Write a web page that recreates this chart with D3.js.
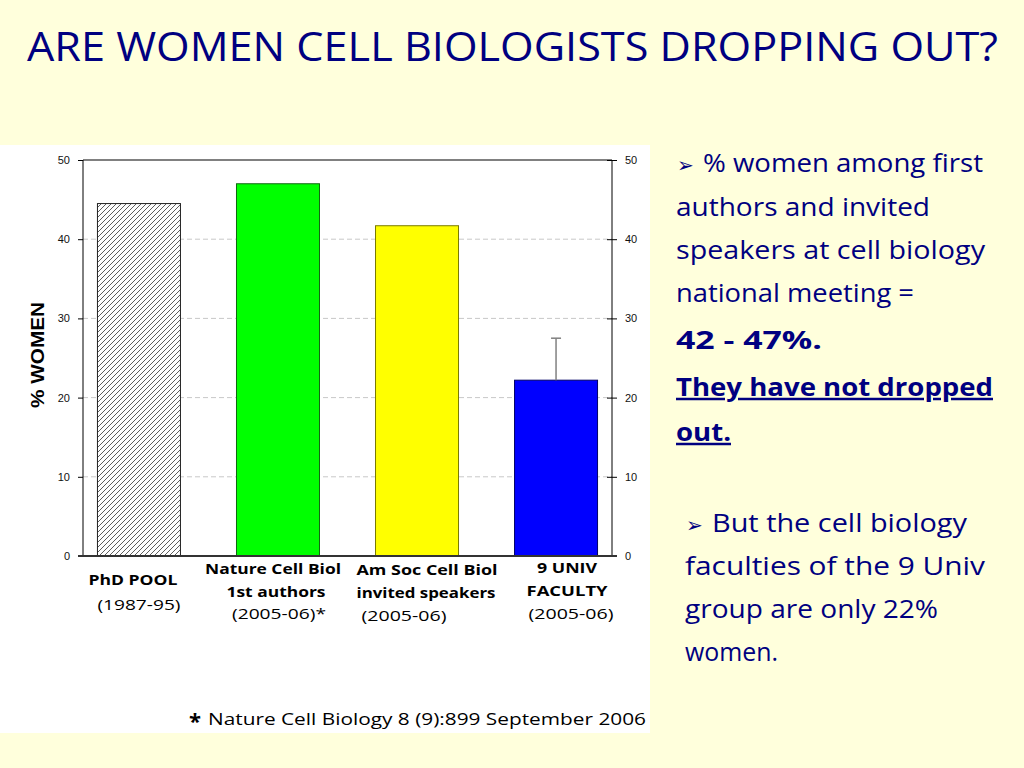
<!DOCTYPE html>
<html>
<head>
<meta charset="utf-8">
<script src="https://cdn.jsdelivr.net/npm/d3@7"></script>
<style>
  body { margin: 0; background: #ffffdc; }
  .hand { font-family: "Comic Sans MS", "Open Sans", sans-serif; }
  .arial { font-family: "Liberation Sans", Arial, sans-serif; }
</style>
</head>
<body>
<div id="chart"></div>
<script>
// data
var categories = ["PhD POOL", "Nature Cell Biol", "Am Soc Cell Biol", "9 UNIV"];
var values = [44.5, 47.0, 41.7, 22.2];
var errorTop = [null, null, null, 27.5];
var yTicks = [0, 10, 20, 30, 40, 50];
var labelLines = [
    ["PhD POOL", "(1987-95)"],
    ["Nature Cell Biol", "1st authors", "(2005-06)*"],
    ["Am Soc Cell Biol", "invited speakers", "(2005-06)"],
    ["9 UNIV", "FACULTY", "(2005-06)"]
];
var titleText = "ARE WOMEN CELL BIOLOGISTS DROPPING OUT?";
var yTitle = "%  WOMEN";
var footnote = "Nature Cell Biology 8 (9):899  September 2006";
var notes1 = ["% women among first", "authors and invited", "speakers at cell biology", "national meeting ="];
var notes1Bold = ["42 - 47%."];
var notes1Under = ["They have not dropped", "out."];
var notes2 = ["But the cell biology", "faculties of the 9 Univ", "group are only 22%", "women."];

// layout (not data)
var fills = ["url(#hatch)", "#00ff00", "#ffff00", "#0000ff"];
var strokes = ["#222", "#116611", "#7a7a00", "#000066"];
var labelY = [[580, 605], [569, 592, 614], [570, 593, 616], [568, 591, 614]];
var labelDx = [[-6, 0], [-5, -2, 1], [10, 9, -13], [11, 11, 15]];
var labelW = [[89, 83], [136, 99, 94], [141, 139, 85], [60, 81, 85]];
var navy = "#000080";

var svg = d3.select("#chart").append("svg")
    .attr("width", 1024).attr("height", 768);

var defs = svg.append("defs");
var pat = defs.append("pattern")
    .attr("id", "hatch")
    .attr("patternUnits", "userSpaceOnUse")
    .attr("width", 5).attr("height", 5);
pat.append("rect").attr("width", 5).attr("height", 5).attr("fill", "#fff");
pat.append("path")
    .attr("d", "M0,5 L5,0 M-1,1 L1,-1 M4,6 L6,4")
    .attr("stroke", "#333").attr("stroke-width", 0.8);

// title
svg.append("text").attr("class", "hand")
    .attr("x", 27).attr("y", 47).attr("dy", "0.35em")
    .attr("font-size", 40).attr("fill", navy)
    .attr("textLength", 971).attr("lengthAdjust", "spacingAndGlyphs")
    .text(titleText);

// white panel behind chart
svg.append("rect")
    .attr("x", 0).attr("y", 145).attr("width", 650).attr("height", 588)
    .attr("fill", "#fff");

var margin = {left: 83, right: 612, top: 160, bottom: 556};

var x = d3.scaleBand()
    .domain(categories)
    .range([margin.left, margin.right])
    .paddingInner(0.403)
    .paddingOuter(0.104);

var y = d3.scaleLinear()
    .domain([0, 50])
    .range([margin.bottom, margin.top]);

// gridlines
svg.append("g").selectAll("line")
    .data(yTicks.filter(function(t) { return t > 0 && t < 50; }))
    .enter().append("line")
    .attr("x1", margin.left).attr("x2", margin.right)
    .attr("y1", function(d) { return y(d); })
    .attr("y2", function(d) { return y(d); })
    .attr("stroke", "#c8c8c8")
    .attr("stroke-dasharray", "5,3");

// top line
svg.append("line")
    .attr("x1", margin.left).attr("x2", margin.right)
    .attr("y1", y(50)).attr("y2", y(50))
    .attr("stroke", "#808080").attr("stroke-width", 2);

// bars
svg.append("g").selectAll("rect")
    .data(values)
    .enter().append("rect")
    .attr("x", function(d, i) { return x(categories[i]); })
    .attr("y", function(d) { return y(d); })
    .attr("width", x.bandwidth())
    .attr("height", function(d) { return y(0) - y(d); })
    .attr("fill", function(d, i) { return fills[i]; })
    .attr("stroke", function(d, i) { return strokes[i]; })
    .attr("stroke-width", 1);

// error bar
var err = svg.append("g");
values.forEach(function(v, i) {
    if (errorTop[i] == null) return;
    var cx = x(categories[i]) + x.bandwidth() / 2;
    err.append("line")
        .attr("x1", cx).attr("x2", cx)
        .attr("y1", y(v)).attr("y2", y(errorTop[i]))
        .attr("stroke", "#808080").attr("stroke-width", 1.5);
    err.append("line")
        .attr("x1", cx - 5).attr("x2", cx + 5)
        .attr("y1", y(errorTop[i])).attr("y2", y(errorTop[i]))
        .attr("stroke", "#808080").attr("stroke-width", 1.5);
});

// axes
var leftAxis = svg.append("g").attr("class", "arial")
    .attr("transform", "translate(" + margin.left + ",0)")
    .call(d3.axisLeft(y).tickValues(yTicks).tickSize(5).tickPadding(8));
var rightAxis = svg.append("g").attr("class", "arial")
    .attr("transform", "translate(" + margin.right + ",0)")
    .call(d3.axisRight(y).tickValues(yTicks).tickSize(5).tickPadding(8));
rightAxis.selectAll(".tick").append("line")
    .attr("x2", -5).attr("stroke", "#000");
[leftAxis, rightAxis].forEach(function(a) {
    a.select(".domain").attr("d", "M0," + y(50) + "V" + y(0)).attr("stroke", "#000");
    a.selectAll("text").attr("font-size", 11).attr("fill", "#111")
        .attr("font-family", "Liberation Sans, Arial, sans-serif");
});

// baseline
svg.append("line")
    .attr("x1", margin.left - 5).attr("x2", margin.right + 5)
    .attr("y1", y(0)).attr("y2", y(0))
    .attr("stroke", "#333").attr("stroke-width", 2);

// y title
svg.append("text").attr("class", "arial")
    .attr("transform", "translate(38,355) rotate(-90)")
    .attr("text-anchor", "middle").attr("dy", "0.35em")
    .attr("font-size", 18).attr("font-weight", "bold")
    .attr("textLength", 106).attr("lengthAdjust", "spacingAndGlyphs")
    .text(yTitle);

// category labels
var lab = svg.append("g").attr("class", "hand");
labelLines.forEach(function(lines, i) {
    var cx = x(categories[i]) + x.bandwidth() / 2;
    lines.forEach(function(t, j) {
        lab.append("text")
            .attr("x", cx + labelDx[i][j])
            .attr("y", labelY[i][j]).attr("dy", "0.35em")
            .attr("text-anchor", "middle")
            .attr("font-size", 15)
            .attr("font-weight", t.charAt(0) === "(" ? "normal" : "bold")
            .attr("fill", "#000")
            .attr("textLength", labelW[i][j]).attr("lengthAdjust", "spacingAndGlyphs")
            .text(t);
    });
});

// footnote
svg.append("text").attr("class", "hand")
    .attr("x", 189).attr("y", 721).attr("dy", "0.35em")
    .attr("font-size", 22).attr("font-weight", "bold").text("*");
svg.append("text").attr("class", "hand")
    .attr("x", 208).attr("y", 719).attr("dy", "0.35em")
    .attr("font-size", 17)
    .attr("textLength", 438).attr("lengthAdjust", "spacingAndGlyphs")
    .text(footnote);

// right-hand notes
var notes = svg.append("g").attr("class", "hand").attr("fill", navy);
function note(t, xx, yy, w, bold, under) {
    notes.append("text")
        .attr("x", xx).attr("y", yy).attr("dy", "0.35em")
        .attr("font-size", 25)
        .attr("font-weight", bold ? "bold" : "normal")
        .attr("text-decoration", under ? "underline" : null)
        .attr("textLength", w).attr("lengthAdjust", "spacingAndGlyphs")
        .text(t);
}
function bullet(xx, yy) {
    notes.append("text")
        .attr("x", xx).attr("y", yy).attr("dy", "0.35em")
        .attr("font-family", "DejaVu Sans, sans-serif")
        .attr("font-size", 20).text("\u27A2");
}
var w1 = [280, 254, 309, 238];
var y1 = [163, 207, 250, 293];
bullet(677, 165);
notes1.forEach(function(t, i) { note(t, i === 0 ? 703 : 676, y1[i], w1[i], false, false); });
note(notes1Bold[0], 676, 340, 146, true, false);
note(notes1Under[0], 676, 387, 317, true, true);
note(notes1Under[1], 676, 432, 55, true, true);

var w2 = [255, 300, 253, 93];
var y2 = [523, 566, 609, 652];
bullet(686, 525);
notes2.forEach(function(t, i) { note(t, i === 0 ? 712 : 685, y2[i], w2[i], false, false); });
</script>
</body>
</html>
